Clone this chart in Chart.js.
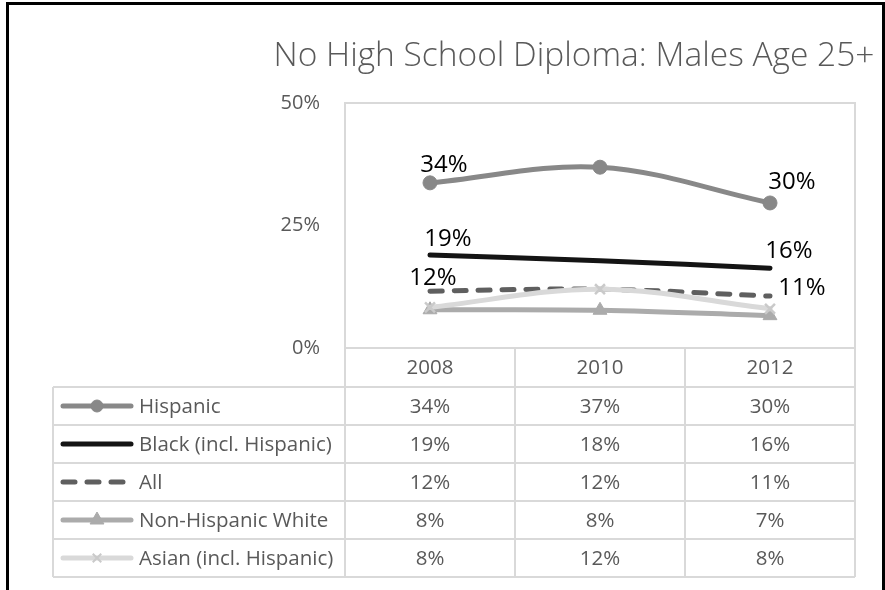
<!DOCTYPE html>
<html>
<head>
<meta charset="utf-8">
<script src="https://cdn.jsdelivr.net/npm/chart.js@4.4.1/dist/chart.umd.min.js"></script>
<style>
  html, body { margin: 0; padding: 0; background: #fff; overflow: hidden; }
  #wrap { position: relative; width: 885px; height: 590px; }
  #frame { position: absolute; left: 6px; top: 2px; width: 879px; height: 700px; border: 3px solid #000; border-bottom: none; box-sizing: border-box; pointer-events: none; }
  canvas { position: absolute; left: 0; top: 0; }
</style>
</head>
<body>
<div id="wrap">
  <canvas id="chart" width="885" height="590"></canvas>
  <div id="frame"></div>
</div>
<script>
const chartTitle = "No High School Diploma: Males Age 25+";
const years = ["2008", "2010", "2012"];
const seriesNames = ["Hispanic", "Black (incl. Hispanic)", "All", "Non-Hispanic White", "Asian (incl. Hispanic)"];
const hispanic = [0.337, 0.369, 0.296];
const black = [0.190, 0.178, 0.163];
const all = [0.116, 0.120, 0.106];
const nonHispanicWhite = [0.078, 0.077, 0.066];
const asian = [0.083, 0.120, 0.080];
const yTicks = [0, 0.25, 0.5];

const textColor = "#595959";
const gridColor = "#d9d9d9";
const font = "'Open Sans', sans-serif";

// look of each series (line + marker), same order as seriesNames
const looks = [
  { color: "#888888", dash: [], point: "circle", radius: 7 },
  { color: "#141414", dash: [], point: false, radius: 0 },
  { color: "#5f5f5f", dash: [12, 12], point: false, radius: 0 },
  { color: "#ababab", dash: [], point: "triangle", radius: 8 },
  { color: "#d9d9d9", dash: [], point: "crossRot", radius: 7, pointColor: "#cacaca" }
];
const values = [hispanic, black, all, nonHispanicWhite, asian];

// which points get a value label, and where it sits relative to the point
const labelSpots = [
  { series: 0, index: 0, dx: 14, dy: -18 },
  { series: 0, index: 2, dx: 22, dy: -21 },
  { series: 1, index: 0, dx: 18, dy: -16 },
  { series: 1, index: 2, dx: 19, dy: -17 },
  { series: 2, index: 0, dx: 3, dy: -13 },
  { series: 2, index: 2, dx: 32, dy: -8 }
];

function pct(v) {
  return Math.round(v * 100) + "%";
}

const datasets = seriesNames.map((name, i) => ({
  label: name,
  data: values[i],
  borderColor: looks[i].color,
  backgroundColor: looks[i].pointColor || looks[i].color,
  pointBorderColor: looks[i].pointColor || looks[i].color,
  borderWidth: 5,
  borderDash: looks[i].dash,
  borderCapStyle: "round",
  borderJoinStyle: "round",
  tension: 0.35,
  pointStyle: looks[i].point,
  pointRadius: looks[i].radius,
  pointBorderWidth: looks[i].point === "crossRot" ? 2.5 : 1,
  order: seriesNames.length - i
}));

// title, plot frame and data labels
const decorPlugin = {
  id: "decor",
  beforeDatasetsDraw(chart) {
    const { ctx, chartArea: a } = chart;
    ctx.save();
    ctx.strokeStyle = gridColor;
    ctx.lineWidth = 2;
    ctx.strokeRect(a.left, a.top, a.right - a.left, a.bottom - a.top);
    ctx.restore();
  },
  afterDatasetsDraw(chart) {
    const ctx = chart.ctx;
    ctx.save();
    ctx.fillStyle = "#000";
    ctx.font = "24px " + font;
    ctx.textAlign = "center";
    ctx.textBaseline = "middle";
    labelSpots.forEach((s) => {
      const pt = chart.getDatasetMeta(s.series).data[s.index];
      ctx.fillText(pct(values[s.series][s.index]), pt.x + s.dx, pt.y + s.dy);
    });
    // chart title
    ctx.fillStyle = textColor;
    ctx.font = "300 33.5px " + font;
    ctx.fillText(chartTitle, 574, 56);
    ctx.restore();
  }
};

// data table under the plot, with legend keys in the first column
const tablePlugin = {
  id: "dataTable",
  afterDraw(chart) {
    const { ctx, chartArea: a } = chart;
    const xs = chart.scales.x;
    const headH = 39, rowH = 38, keyLeft = 53;
    const top = a.bottom;
    const bodyTop = top + headH;
    const bottom = bodyTop + rowH * seriesNames.length;
    const colW = xs.getPixelForValue(1) - xs.getPixelForValue(0);

    ctx.save();
    ctx.strokeStyle = gridColor;
    ctx.lineWidth = 2;
    ctx.beginPath();
    // horizontal rules
    for (let r = 0; r <= seriesNames.length; r++) {
      const y = bodyTop + r * rowH;
      ctx.moveTo(keyLeft, y);
      ctx.lineTo(a.right, y);
    }
    // vertical rules
    ctx.moveTo(keyLeft, bodyTop);
    ctx.lineTo(keyLeft, bottom);
    for (let c = 0; c <= years.length; c++) {
      const x = xs.getPixelForValue(0) - colW / 2 + c * colW;
      ctx.moveTo(x, top);
      ctx.lineTo(x, bottom);
    }
    ctx.stroke();

    ctx.fillStyle = textColor;
    ctx.font = "20.5px " + font;
    ctx.textAlign = "center";
    ctx.textBaseline = "middle";
    years.forEach((yr, c) => {
      ctx.fillText(yr, xs.getPixelForValue(c), top + headH / 2 + 1);
    });

    seriesNames.forEach((name, r) => {
      const yMid = bodyTop + r * rowH + rowH / 2 + 1;
      values[r].forEach((v, c) => {
        ctx.fillStyle = textColor;
        ctx.textAlign = "center";
        ctx.fillText(pct(v), xs.getPixelForValue(c), yMid);
      });

      // legend key
      const lk = looks[r];
      ctx.save();
      ctx.strokeStyle = lk.color;
      ctx.lineWidth = 5;
      ctx.lineCap = "round";
      ctx.setLineDash(lk.dash);
      ctx.beginPath();
      ctx.moveTo(63, yMid - 1);
      ctx.lineTo(131, yMid - 1);
      ctx.stroke();
      ctx.restore();
      if (lk.point) {
        ctx.save();
        ctx.fillStyle = lk.pointColor || lk.color;
        ctx.strokeStyle = lk.pointColor || lk.color;
        ctx.lineWidth = lk.point === "crossRot" ? 2 : 1;
        Chart.helpers.drawPoint(ctx, { pointStyle: lk.point, radius: lk.point === "triangle" ? 8 : 6, rotation: 0, borderWidth: ctx.lineWidth }, 97, yMid - 1);
        ctx.restore();
      }
      ctx.fillStyle = textColor;
      ctx.textAlign = "left";
      ctx.fillText(name, 139, yMid);
    });
    ctx.restore();
  }
};

new Chart(document.getElementById("chart"), {
  type: "line",
  data: { labels: years, datasets: datasets },
  options: {
    responsive: false,
    animation: false,
    devicePixelRatio: 1,
    layout: { padding: { top: 103, bottom: 242, right: 30, left: 0 } },
    plugins: {
      legend: { display: false },
      tooltip: { enabled: false },
      title: { display: false }
    },
    scales: {
      x: {
        type: "category",
        offset: true,
        display: false
      },
      y: {
        min: 0,
        max: 0.5,
        grid: { display: false, drawTicks: false },
        border: { display: false },
        afterBuildTicks(scale) {
          scale.ticks = yTicks.map((v) => ({ value: v }));
        },
        afterFit(scale) {
          scale.width = 345;
        },
        ticks: {
          padding: 25,
          color: textColor,
          font: { family: font, size: 20 },
          callback: (v) => pct(v)
        }
      }
    }
  },
  plugins: [decorPlugin, tablePlugin]
});
</script>
</body>
</html>
